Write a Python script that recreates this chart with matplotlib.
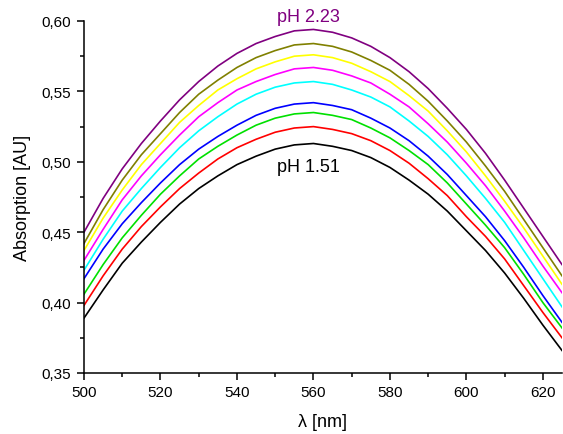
import matplotlib
matplotlib.use('Agg')
import matplotlib.pyplot as plt
from matplotlib.ticker import MultipleLocator, FuncFormatter

plt.rcParams['font.family'] = ['Liberation Sans', 'DejaVu Sans']

# wavelength grid (nm)
wl = [500, 505, 510, 515, 520, 525, 530, 535, 540, 545, 550, 555, 560,
      565, 570, 575, 580, 585, 590, 595, 600, 605, 610, 615, 620, 625]

# absorption spectra (lowest pH first)
a_black = [.389, .409, .428, .443, .457, .470, .481, .490, .498, .504, .509, .512, .513,
           .511, .508, .503, .496, .487, .477, .465, .451, .437, .421, .403, .384, .366]
a_red = [.398, .419, .438, .454, .468, .481, .492, .502, .510, .516, .521, .524, .525,
         .523, .520, .515, .508, .499, .488, .476, .461, .447, .431, .412, .393, .375]
a_green = [.406, .427, .446, .462, .477, .490, .502, .511, .519, .526, .531, .534, .535,
           .533, .530, .524, .517, .508, .498, .485, .470, .455, .439, .420, .400, .382]
a_blue = [.417, .438, .456, .471, .485, .498, .509, .518, .526, .533, .538, .541, .542,
          .540, .537, .531, .524, .515, .504, .491, .476, .461, .444, .425, .405, .386]
a_cyan = [.423, .445, .465, .481, .496, .510, .522, .532, .541, .548, .553, .556, .557,
          .555, .551, .546, .539, .529, .518, .505, .490, .474, .457, .437, .417, .397]
a_magenta = [.430, .452, .473, .490, .505, .519, .532, .542, .551, .557, .562, .566, .567,
             .565, .561, .556, .548, .539, .527, .514, .499, .483, .465, .446, .426, .407]
a_yellow = [.437, .460, .480, .498, .513, .528, .540, .551, .559, .566, .571, .575, .576,
            .574, .570, .564, .557, .547, .536, .522, .507, .490, .472, .453, .433, .413]
a_olive = [.442, .466, .487, .505, .520, .535, .548, .558, .567, .574, .579, .583, .584,
           .582, .578, .572, .565, .555, .543, .529, .514, .497, .479, .459, .439, .419]
a_purple = [.450, .474, .495, .513, .529, .544, .557, .568, .577, .584, .589, .593, .594,
            .592, .588, .582, .574, .564, .552, .538, .523, .506, .487, .467, .447, .427]

spectra = [a_black, a_red, a_green, a_blue, a_cyan, a_magenta, a_yellow, a_olive, a_purple]
colors = ['#000000', '#ff0000', '#00e000', '#0000ff', '#00ffff', '#ff00ff',
          '#ffff00', '#808000', '#800080']

fig = plt.figure(figsize=(5.63, 4.35), dpi=100)
ax = fig.add_axes([84/563, 61/435, 478/563, 352/435])

for a, c in zip(spectra, colors):
    ax.plot(wl, a, color=c, lw=1.2)

ax.text(550.5, 0.600, 'pH 2.23', color='#800080', fontsize=13, va='baseline', clip_on=False)
ax.text(550.5, 0.4935, 'pH 1.51', color='black', fontsize=13, va='baseline')

ax.set_xlim(500, 625)
ax.set_ylim(0.35, 0.60)
ax.xaxis.set_major_locator(MultipleLocator(20))
ax.xaxis.set_minor_locator(MultipleLocator(10))
ax.yaxis.set_major_locator(MultipleLocator(0.05))
ax.yaxis.set_minor_locator(MultipleLocator(0.025))
ax.yaxis.set_major_formatter(FuncFormatter(lambda v, p: f'{v:.2f}'.replace('.', ',')))

for s in ['top', 'right']:
    ax.spines[s].set_visible(False)
for s in ['left', 'bottom']:
    ax.spines[s].set_linewidth(1.1)
ax.tick_params(which='major', direction='out', length=5, width=1.1, labelsize=11, pad=4)
ax.tick_params(which='minor', direction='out', length=3, width=1.1)

ax.set_xlabel('λ [nm]', fontsize=13, labelpad=10)
ax.set_ylabel('Absorption [AU]', fontsize=13, labelpad=8)

fig.savefig('out.png', dpi=100)
